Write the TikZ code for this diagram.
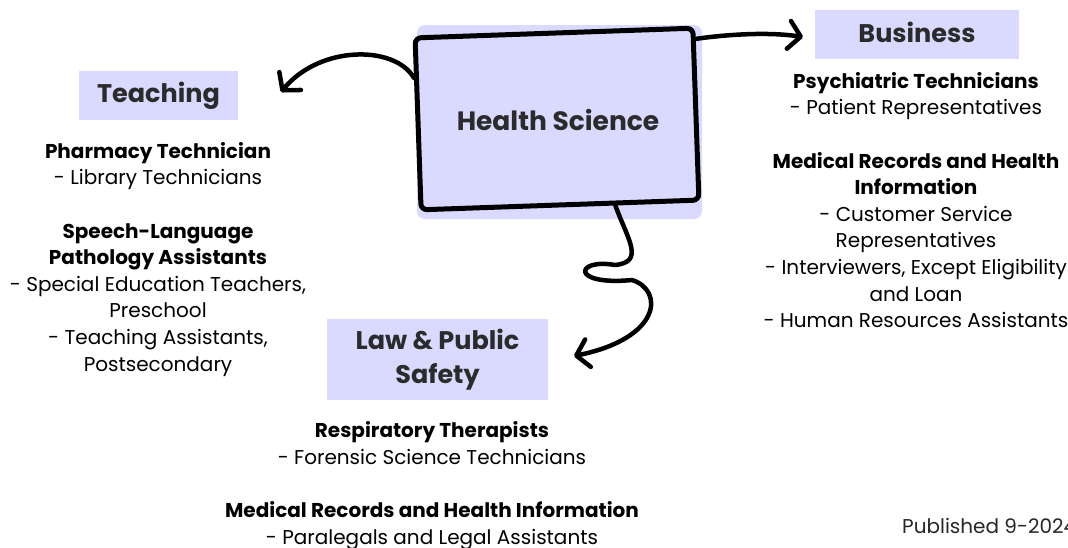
\documentclass[tikz,border=0pt]{standalone}
\usepackage{fontspec}
\setmainfont{Poppins}
\usetikzlibrary{arrows.meta}

\definecolor{lavender}{RGB}{218,217,255}
\definecolor{inkgray}{RGB}{43,43,43}

\begin{document}
\begin{tikzpicture}[
	x=1pt, y=-1pt,
	cluster/.style={rectangle, fill=lavender, inner sep=0pt, text=inkgray, align=center,
		font=\bfseries\fontsize{25.5}{34}\selectfont},
	hsbox/.style={rectangle, draw, line width=5pt, rounded corners=6pt,
		minimum width=278pt, minimum height=172pt, inner sep=0pt},
	jobs/.style={anchor=north, align=center, inner sep=0pt, text=black,
		font=\fontsize{20}{26.6}\selectfont},
	sketch/.style={line width=4.5pt, line cap=round, line join=round,
		-{Straight Barb[length=12pt,width=28pt,round]}},
	]
	
	\useasboundingbox (0,0) rectangle (1068,547);
	
	%-----------------------
	% Column positions
	%-----------------------
	\def\xteach{158}   % Teaching column
	\def\xbus{916}     % Business column
	\def\xlaw{432}     % Law & Public Safety column
	\def\jobgap{26.6pt}
	
	%-----------------------
	% Centre: Health Science
	%-----------------------
	\fill[lavender, rounded corners=8pt] (417,25) rectangle (702,219);
	\node[hsbox, rotate=2] (hs) at (557,119) {};
	\node[text=inkgray, font=\bfseries\fontsize{26.5}{32}\selectfont] (hslabel) at (558,120) {Health Science};
	
	%-----------------------
	% Cluster headings
	%-----------------------
	\node[cluster, minimum width=159pt, minimum height=49pt] (teach) at (158.5,95.5) {Teaching};
	\node[cluster, minimum width=204pt, minimum height=49pt, text depth=5pt] (bus) at (917,34.5) {Business};
	\node[cluster, minimum width=221pt, minimum height=81pt] (law) at (437.5,359.5) {Law \& Public\\Safety};
	
	%-----------------------
	% Occupations
	%-----------------------
	\node[jobs] (teachjobs) at (\xteach,142) {%
		\textbf{Pharmacy Technician}\\
		- Library Technicians\\[\jobgap]
		\textbf{Speech-Language}\\
		\textbf{Pathology Assistants}\\
		- Special Education Teachers,\\
		Preschool\\
		- Teaching Assistants,\\
		Postsecondary};
	
	\node[jobs] (busjobs) at (\xbus,72) {%
		\textbf{Psychiatric Technicians}\\
		- Patient Representatives\\[\jobgap]
		\textbf{Medical Records and Health}\\
		\textbf{Information}\\
		- Customer Service\\
		Representatives\\
		- Interviewers, Except Eligibility\\
		and Loan\\
		- Human Resources Assistants};
	
	\node[jobs] (lawjobs) at (\xlaw,421.5) {%
		\textbf{Respiratory Therapists}\\
		- Forensic Science Technicians\\[\jobgap]
		\textbf{Medical Records and Health Information}\\
		- Paralegals and Legal Assistants};
	
	\node[jobs, anchor=west, text=black!85] (published) at (902,526) {Published 9-2024};
	
	%-----------------------
	% Arrow tips
	%-----------------------
	\coordinate (teachtip) at (281,92);
	\coordinate (bustip) at (803,37);
	\coordinate (lawtip) at (574,356);
	
	%-----------------------
	% Sketchy arrows
	%-----------------------
	\draw[sketch] (hs.162) .. controls (395,45) and (320,45) .. (teachtip);
	\draw[sketch] (hs.28) .. controls (730,34) and (770,32) .. (bustip);
	\draw[sketch] (hs.-58) .. controls (628,240) and (645,262) .. (615,265)
		.. controls (575,258) and (570,286) .. (632,280)
		.. controls (664,290) and (662,338) .. (lawtip);
	
\end{tikzpicture}
\end{document}
